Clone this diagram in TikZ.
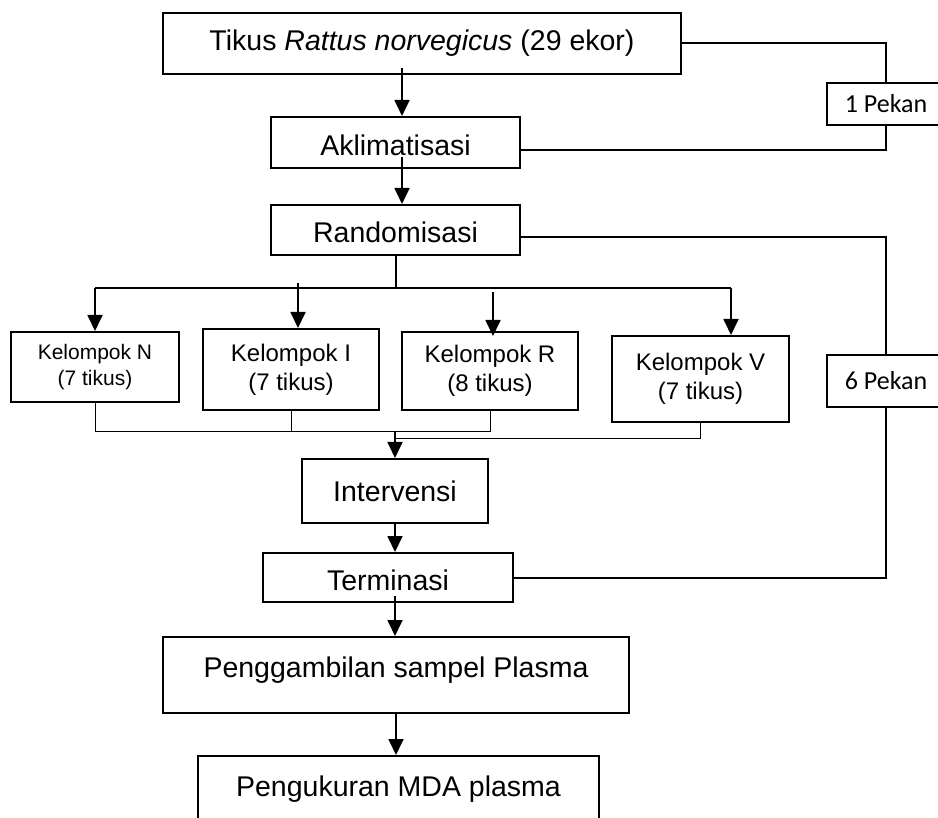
\documentclass[tikz,border=0pt]{standalone}
\usepackage{fontspec}
\setmainfont{Liberation Sans}
\newfontfamily\pekanfont{Carlito}
\usepackage{tikz}
\usetikzlibrary{arrows.meta}
\usetikzlibrary{positioning}

\tikzset{
  kotak/.style={rectangle, draw, line width=2pt, inner sep=0pt, align=center,
    font=\fontsize{28.5}{34}\selectfont},
  kelompok/.style={kotak, font=\fontsize{24}{29}\selectfont},
  pekan/.style={kotak, font=\pekanfont\fontsize{26}{30}\selectfont},
  panah/.style={line width=1.8pt, -{Triangle[length=16pt,width=15pt]}},
  tipis/.style={line width=1pt}
}

\begin{document}
\begin{tikzpicture}[x=1pt, y=-1pt, line width=2pt]
  \useasboundingbox (0,0) rectangle (938,818);
  \clip (0,0) rectangle (938,818);

  % main column
  \node [kotak, minimum width=518pt, minimum height=61pt] (tikus) at (422,43.5)
    {Tikus \textit{Rattus norvegicus} (29 ekor)};
  \node [kotak, minimum width=249pt, minimum height=51pt, text height=27pt] (akl) at (395.5,142.5) {Aklimatisasi};
  \node [kotak, minimum width=249pt, minimum height=50pt, text height=25pt] (rand) at (395.5,230) {Randomisasi};

  % groups
  \node [kelompok, font=\fontsize{21}{26}\selectfont, minimum width=168pt, minimum height=70pt] (kelN) at (95,367)
    {Kelompok N\\(7 tikus)};
  \node [kelompok, minimum width=176pt, minimum height=81pt] (kelI) at (291,369.5) {Kelompok I\\(7 tikus)};
  \node [kelompok, minimum width=176pt, minimum height=78pt] (kelR) at (490,371) {Kelompok R\\(8 tikus)};
  \node [kelompok, minimum width=177pt, minimum height=86pt] (kelV) at (700.5,379) {Kelompok V\\(7 tikus)};

  \node [kotak, minimum width=186pt, minimum height=64pt] (interv) at (395,491) {Intervensi};
  \node [kotak, minimum width=250pt, minimum height=49pt, text height=26pt] (term) at (388,577.5) {Terminasi};
  \node [kotak, minimum width=466pt, minimum height=76pt, text depth=16pt] (ambil) at (396,675)
    {Penggambilan sampel Plasma};
  \node [kotak, minimum width=401pt, minimum height=74pt, text depth=14pt] (ukur) at (398.5,793)
    {Pengukuran MDA plasma};

  % durations
  \node [pekan, minimum width=118pt, minimum height=42pt] (pekan1) at (886,104) {1 Pekan};
  \node [pekan, minimum width=118pt, minimum height=52pt] (pekan6) at (886,381) {6 Pekan};

  % arrows down
  \draw [panah] ([xshift=-20pt,yshift=7pt]tikus.south) -- ([xshift=6.5pt]akl.north);
  \draw [panah] ([xshift=6.5pt,yshift=-14.5pt]akl.center) -- ([xshift=6.5pt]rand.north);
  \draw (rand.south) -- ++(0,32) coordinate (cabang);
  \draw (kelN.north |- cabang) -- ([xshift=30.5pt]kelV.north |- cabang);
  \draw [panah] (kelN.north |- cabang) -- (kelN.north);
  \draw [panah] ([xshift=7pt,yshift=45pt]kelI.north) -- ([xshift=7pt]kelI.north);
  \draw [panah] ([xshift=3pt,yshift=39pt]kelR.north) -- ([xshift=3pt,yshift=-5pt]kelR.north);
  \draw [panah] ([xshift=30.5pt]kelV.north |- cabang) -- ([xshift=30.5pt]kelV.north);

  % joining the groups
  \coordinate (gabung) at ([yshift=26pt]interv.north);
  \draw [tipis] (kelN.south) |- (gabung -| kelR.south) -- (kelR.south);
  \draw [tipis] (kelI.south) -- (kelI.south |- gabung);
  \draw [tipis] (kelV.south) |- ([yshift=-7pt]gabung);
  \draw [panah] (gabung) -- (interv.north);

  \draw [panah] (interv.south) -- (interv.south |- term.north);
  \draw [panah] ([yshift=7pt]term.south -| interv.south) -- (ambil.north -| interv.south);
  \draw [panah] (ambil.south) -- (ambil.south |- ukur.north);

  % time lines on the right
  \draw (tikus.east) -| (pekan1.north);
  \draw (pekan1.south) |- ([yshift=-7.5pt]akl.east);
  \draw ([yshift=-7pt]rand.east) -| (pekan6.north);
  \draw (pekan6.south) |- (term.east);
\end{tikzpicture}
\end{document}
